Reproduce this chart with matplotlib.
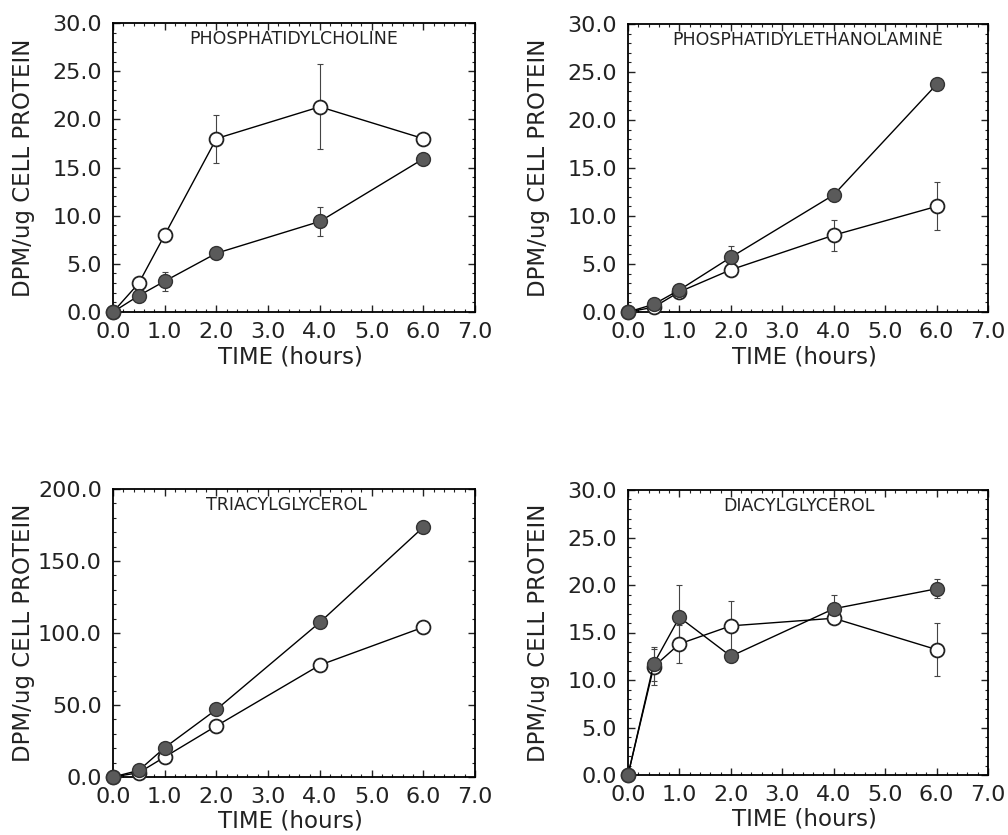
import matplotlib
matplotlib.use("Agg")
import matplotlib.pyplot as plt
from matplotlib.ticker import MultipleLocator, FormatStrFormatter

# time points (hours)
time_h = [0.0, 0.5, 1.0, 2.0, 4.0, 6.0]

# phosphatidylcholine
pc_open = [0.0, 3.0, 8.0, 18.0, 21.3, 18.0]
pc_open_err = [0, 0, 0, 2.5, 4.4, 0]
pc_fill = [0.0, 1.7, 3.2, 6.1, 9.4, 15.9]
pc_fill_err = [0, 0, 1.0, 0, 1.5, 0]

# phosphatidylethanolamine
pe_open = [0.0, 0.5, 2.1, 4.4, 8.0, 11.0]
pe_open_err = [0, 0, 0, 0, 1.6, 2.5]
pe_fill = [0.0, 0.8, 2.3, 5.7, 12.2, 23.7]
pe_fill_err = [0, 0, 0, 1.2, 0, 0]

# triacylglycerol
tag_open = [0.0, 3.0, 13.9, 35.5, 77.7, 104.0]
tag_open_err = [0, 0, 0, 0, 0, 0]
tag_fill = [0.0, 4.6, 20.4, 46.9, 107.4, 173.5]
tag_fill_err = [0, 0, 0, 0, 0, 0]

# diacylglycerol
dag_open = [0.0, 11.4, 13.8, 15.7, 16.5, 13.2]
dag_open_err = [0, 1.9, 2.0, 2.6, 0.5, 2.8]
dag_fill = [0.0, 11.7, 16.6, 12.5, 17.5, 19.6]
dag_fill_err = [0, 1.8, 3.4, 0, 1.4, 1.0]

panels = [
    ("PHOSPHATIDYLCHOLINE", pc_open, pc_open_err, pc_fill, pc_fill_err, 30, 5, 1, (113, 312, 362, 289), 0.50),
    ("PHOSPHATIDYLETHANOLAMINE", pe_open, pe_open_err, pe_fill, pe_fill_err, 30, 5, 1, (628, 312, 360, 288), 0.50),
    ("TRIACYLGLYCEROL", tag_open, tag_open_err, tag_fill, tag_fill_err, 200, 50, 10, (113, 777, 362, 288), 0.48),
    ("DIACYLGLYCEROL", dag_open, dag_open_err, dag_fill, dag_fill_err, 30, 5, 1, (628, 775, 360, 285), 0.475),
]

W, H = 1008, 835
fig = plt.figure(figsize=(W / 100, H / 100), dpi=100)
plt.rcParams["font.family"] = "DejaVu Sans"

for title, y_o, e_o, y_f, e_f, ymax, ymaj, ymin, (px, pb, pw, ph), tx in panels:
    ax = fig.add_axes([px / W, (H - pb) / H, pw / W, ph / H])

    ax.errorbar(time_h, y_o, yerr=e_o, fmt="none", ecolor="#444444",
                elinewidth=0.8, capsize=2.5, capthick=0.8, zorder=2)
    ax.errorbar(time_h, y_f, yerr=e_f, fmt="none", ecolor="#444444",
                elinewidth=0.8, capsize=2.5, capthick=0.8, zorder=2)
    ax.plot(time_h, y_o, "-o", color="black", lw=1.0, ms=10,
            mfc="white", mec="#222222", mew=1.3, clip_on=False, zorder=3)
    ax.plot(time_h, y_f, "-o", color="black", lw=1.0, ms=10,
            mfc="#5a5a5a", mec="#333333", mew=1.0, clip_on=False, zorder=4)

    ax.set_xlim(0, 7)
    ax.set_ylim(0, ymax)
    ax.xaxis.set_major_locator(MultipleLocator(1))
    ax.xaxis.set_minor_locator(MultipleLocator(0.2))
    ax.yaxis.set_major_locator(MultipleLocator(ymaj))
    ax.yaxis.set_minor_locator(MultipleLocator(ymin))
    ax.xaxis.set_major_formatter(FormatStrFormatter("%.1f"))
    ax.yaxis.set_major_formatter(FormatStrFormatter("%.1f"))
    ax.tick_params(which="both", direction="in", top=True, right=True,
                   labelsize=16, colors="#222222")
    ax.tick_params(which="major", length=5, width=1)
    ax.tick_params(which="minor", length=2.5, width=0.8)
    ax.tick_params(axis="x", which="major", pad=7)
    ax.tick_params(axis="y", which="major", pad=8)
    for s in ax.spines.values():
        s.set_linewidth(1.3)

    ax.set_xlabel("TIME (hours)", fontsize=16.5, color="#222222")
    ax.set_ylabel("DPM/ug CELL PROTEIN", fontsize=16.5, color="#222222")
    ax.yaxis.set_label_coords(-78 / pw, 0.5)
    ax.xaxis.set_label_coords(0.49, -33 / ph)
    ax.text(tx, 0.945, title, transform=ax.transAxes, ha="center", va="center",
            fontsize=12.5, color="#222222")

fig.savefig("out.png", dpi=100)
